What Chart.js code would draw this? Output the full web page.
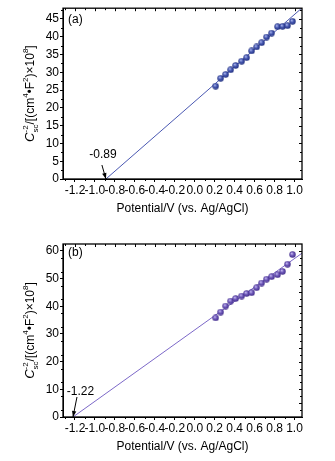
<!DOCTYPE html>
<html>
<head>
<meta charset="utf-8">
<script src="https://cdn.jsdelivr.net/npm/chart.js@4/dist/chart.umd.min.js"></script>
<style>
  html, body { margin: 0; padding: 0; background: #fff; }
  .panel { position: relative; width: 335px; }
</style>
</head>
<body>
<div class="panel" style="height:225px"><canvas id="chartA"></canvas></div>
<div class="panel" style="height:236px"><canvas id="chartB"></canvas></div>
<script>
// potential (V vs. Ag/AgCl) of the measured points
const potential = [0.21, 0.26, 0.31, 0.36, 0.41, 0.47, 0.52, 0.57, 0.62, 0.67, 0.72, 0.77, 0.83, 0.88, 0.93, 0.98]
// Csc^-2 values, x10^8
const cscA = [26.1, 28.3, 29.4, 30.7, 31.9, 33.1, 34.1, 36.0, 37.1, 38.3, 39.9, 41.0, 42.8, 42.9, 43.1, 44.3]
const cscB = [35.8, 37.9, 40.1, 41.9, 42.8, 43.7, 44.6, 44.9, 46.7, 48.4, 49.8, 50.7, 51.4, 52.6, 55.2, 58.7]
// fitted Mott-Schottky lines
const fitXA = [-0.89, 1.08]
const fitYA = [0, 48.2]
const fitXB = [-1.22, 1.08]
const fitYB = [0, 59.3]
const interceptA = -0.89
const interceptB = -1.22
// tick labels
const xTicks = [-1.2, -1.0, -0.8, -0.6, -0.4, -0.2, 0.0, 0.2, 0.4, 0.6, 0.8, 1.0]
const yTicksA = [0, 5, 10, 15, 20, 25, 30, 35, 40, 45]
const yTicksB = [0, 5, 10, 15, 20, 25, 30, 35, 40, 45, 50, 55, 60]

const FONT = "'Liberation Sans', Arial, sans-serif"

// shaded sphere used as point marker
function makeBall(light, base, dark) {
  const c = document.createElement('canvas')
  c.width = 7
  c.height = 7
  const g = c.getContext('2d')
  const grad = g.createRadialGradient(2.6, 2.4, 0.3, 3.5, 3.5, 3.6)
  grad.addColorStop(0, light)
  grad.addColorStop(0.45, base)
  grad.addColorStop(1, dark)
  g.fillStyle = grad
  g.beginPath()
  g.arc(3.5, 3.5, 3.2, 0, Math.PI * 2)
  g.fill()
  return c
}

function drawYTitle(ctx, cx, cy) {
  const parts = [
    { t: 'C', style: 'italic ', size: 13, dy: 0 },
    { t: 'sc', size: 8, dy: 4, stack: true },
    { t: '-2', size: 8, dy: -6 },
    { t: '/[(cm', size: 12, dy: 0 },
    { t: '4', size: 8, dy: -6 },
    { t: '•F', size: 12, dy: 0 },
    { t: '2', size: 8, dy: -6 },
    { t: ')×10', size: 12, dy: 0 },
    { t: '8', size: 8, dy: -6 },
    { t: ']', size: 12, dy: 0 }
  ]
  const fontOf = (p) => (p.style || '') + p.size + 'px ' + FONT
  ctx.save()
  ctx.textAlign = 'left'
  ctx.textBaseline = 'alphabetic'
  // measure
  let total = 0
  let pendingStack = 0
  parts.forEach((p) => {
    ctx.font = fontOf(p)
    const w = ctx.measureText(p.t).width
    if (p.stack) {
      pendingStack = w
    } else if (pendingStack) {
      total += Math.max(pendingStack, w)
      pendingStack = 0
    } else {
      total += w
    }
  })
  ctx.translate(cx, cy)
  ctx.rotate(-Math.PI / 2)
  ctx.fillStyle = '#000'
  let x = -total / 2
  let stackW = 0
  parts.forEach((p) => {
    ctx.font = fontOf(p)
    const w = ctx.measureText(p.t).width
    ctx.fillText(p.t, x, 4 + p.dy)
    if (p.stack) {
      stackW = w
    } else if (stackW) {
      x += Math.max(stackW, w)
      stackW = 0
    } else {
      x += w
    }
  })
  ctx.restore()
}

function arrow(ctx, x0, y0, x1, y1) {
  ctx.beginPath()
  ctx.moveTo(x0, y0)
  ctx.lineTo(x1, y1)
  ctx.stroke()
  const a = Math.atan2(y1 - y0, x1 - x0)
  const len = 6
  const half = 2.2
  ctx.beginPath()
  ctx.moveTo(x1, y1)
  ctx.lineTo(x1 - len * Math.cos(a) + half * Math.sin(a), y1 - len * Math.sin(a) - half * Math.cos(a))
  ctx.lineTo(x1 - len * Math.cos(a) - half * Math.sin(a), y1 - len * Math.sin(a) + half * Math.cos(a))
  ctx.closePath()
  ctx.fill()
}

// frame, minor ticks, titles and annotations
const decorPlugin = {
  id: 'decor',
  afterDraw(chart, args, opts) {
    const { ctx, chartArea: area, scales } = chart
    const xs = scales.x
    const ys = scales.y
    ctx.save()
    ctx.strokeStyle = '#000'
    ctx.fillStyle = '#000'
    ctx.lineWidth = 1

    // minor ticks (outward bottom/left) and inward ticks on top/right
    ctx.beginPath()
    for (let v = -1.3; v <= 1.06; v += 0.1) {
      const px = Math.round(xs.getPixelForValue(v)) + 0.5
      const major = Math.abs(v * 5 - Math.round(v * 5)) < 1e-6
      if (!major) {
        ctx.moveTo(px, area.bottom)
        ctx.lineTo(px, area.bottom + 2)
      }
      ctx.moveTo(px, area.top)
      ctx.lineTo(px, area.top + (major ? 3 : 2))
    }
    for (let v = 2.5; v < ys.max; v += 2.5) {
      const py = Math.round(ys.getPixelForValue(v)) + 0.5
      const major = v % 5 === 0
      if (!major) {
        ctx.moveTo(area.left, py)
        ctx.lineTo(area.left - 2, py)
      }
      ctx.moveTo(area.right, py)
      ctx.lineTo(area.right - (major ? 3 : 2), py)
    }
    ctx.stroke()

    // frame
    ctx.lineWidth = 1.3
    ctx.strokeRect(area.left, area.top, area.right - area.left, area.bottom - area.top)

    // axis titles
    ctx.font = '12px ' + FONT
    ctx.textAlign = 'center'
    ctx.textBaseline = 'middle'
    ctx.fillText('Potential/V (vs. Ag/AgCl)', (area.left + area.right) / 2, area.bottom + 30)
    drawYTitle(ctx, 30, (area.top + area.bottom) / 2)

    // panel label
    ctx.textAlign = 'left'
    ctx.textBaseline = 'middle'
    ctx.font = '12px ' + FONT
    ctx.fillText(opts.label, area.left + 5, area.top + opts.labelDy)

    // intercept annotation
    const tipX = xs.getPixelForValue(opts.intercept)
    const tipY = ys.getPixelForValue(0)
    ctx.lineWidth = 1
    arrow(ctx, tipX + opts.tail[0], tipY + opts.tail[1], tipX, tipY)
    ctx.textAlign = 'center'
    ctx.fillText(opts.intercept.toFixed(2), tipX + opts.text[0], tipY + opts.text[1])
    ctx.restore()
  }
}

function makeChart(id, cfg) {
  const pts = potential.map((x, i) => ({ x: x, y: cfg.values[i] }))
  const fit = cfg.fitX.map((x, i) => ({ x: x, y: cfg.fitY[i] }))
  return new Chart(document.getElementById(id), {
    type: 'scatter',
    data: {
      datasets: [
        {
          label: 'fit',
          data: fit,
          showLine: true,
          borderColor: cfg.lineColor,
          borderWidth: 1,
          pointRadius: 0,
          order: 2
        },
        {
          label: 'data',
          data: pts,
          pointStyle: makeBall(cfg.light, cfg.base, cfg.dark),
          order: 1
        }
      ]
    },
    options: {
      responsive: true,
      maintainAspectRatio: false,
      animation: false,
      layout: {
        padding: { top: cfg.padTop, left: 0, right: 33, bottom: 0 }
      },
      plugins: {
        legend: { display: false },
        tooltip: { enabled: false },
        decor: {
          label: cfg.label,
          labelDy: cfg.labelDy,
          intercept: cfg.intercept,
          tail: cfg.tail,
          text: cfg.text
        }
      },
      scales: {
        x: {
          type: 'linear',
          min: -1.32,
          max: 1.075,
          afterBuildTicks: function (scale) {
            scale.ticks = xTicks.map((v) => ({ value: v }))
          },
          afterFit: function (scale) {
            scale.height = cfg.xAxisH
          },
          ticks: {
            autoSkip: false,
            maxRotation: 0,
            padding: 1,
            color: '#000',
            font: { family: FONT, size: 12 },
            callback: function (value) {
              return Number(value).toFixed(1)
            }
          },
          grid: {
            drawOnChartArea: false,
            tickLength: 3,
            tickColor: '#000'
          },
          border: { display: true, color: '#000', width: 1 }
        },
        y: {
          type: 'linear',
          min: 0,
          max: cfg.yMax,
          afterBuildTicks: function (scale) {
            scale.ticks = cfg.yTicks.map((v) => ({ value: v }))
          },
          afterFit: function (scale) {
            scale.width = 63
          },
          ticks: {
            padding: 1,
            color: '#000',
            font: { family: FONT, size: 12 }
          },
          grid: {
            drawOnChartArea: false,
            tickLength: 3,
            tickColor: '#000'
          },
          border: { display: true, color: '#000', width: 1 }
        }
      }
    },
    plugins: [decorPlugin]
  })
}

makeChart('chartA', {
  values: cscA,
  fitX: fitXA,
  fitY: fitYA,
  yMax: 48,
  yTicks: yTicksA,
  padTop: 4,
  xAxisH: 46,
  lineColor: '#4a58b2',
  light: '#a9b4ec',
  base: '#4153ad',
  dark: '#1f2c78',
  label: '(a)',
  labelDy: 11.5,
  intercept: interceptA,
  tail: [-4, -14],
  text: [-3, -24]
})

makeChart('chartB', {
  values: cscB,
  fitX: fitXB,
  fitY: fitYB,
  yMax: 62.5,
  yTicks: yTicksB,
  padTop: 19,
  xAxisH: 44,
  lineColor: '#7c68c8',
  light: '#c3b6f0',
  base: '#6a54b6',
  dark: '#3f2a85',
  label: '(b)',
  labelDy: 9,
  intercept: interceptB,
  tail: [4, -20],
  text: [7.5, -25]
})
</script>
</body>
</html>
